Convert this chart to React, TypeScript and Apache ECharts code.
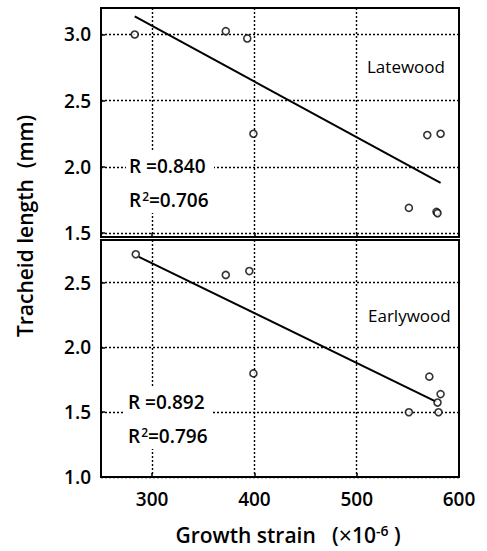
import React, { useEffect, useRef } from "react";
import * as echarts from "echarts";

// Growth strain (x10^-6) and tracheid length (mm)
const strainTicks = [300, 400, 500, 600];
const lateTicks = [1.5, 2.0, 2.5, 3.0];
const earlyTicks = [1.0, 1.5, 2.0, 2.5];

const lateStrain = [283, 372, 393, 399, 569, 582, 551, 578, 579];
const lateLength = [3.0, 3.025, 2.97, 2.25, 2.24, 2.25, 1.69, 1.66, 1.65];
const lateFitStrain = [283, 582];
const lateFitLength = [3.136, 1.879];

const earlyStrain = [284, 372, 395, 399, 571, 582, 579, 551, 580];
const earlyLength = [2.72, 2.56, 2.59, 1.8, 1.775, 1.64, 1.575, 1.5, 1.5];
const earlyFitStrain = [287, 578];
const earlyFitLength = [2.7, 1.58];

const FONT = "Open Sans";

const pairs = (xs: number[], ys: number[]) => xs.map((x, i) => [x, ys[i]]);

const gridLine = { show: true, lineStyle: { color: "#000", width: 1.4, type: [2, 2] as number[] } };

function xAxisFor(gridIndex: number, showLabels: boolean) {
  return {
    type: "value" as const,
    gridIndex,
    min: 250,
    max: 600,
    axisLine: { show: false },
    axisTick: { show: true, inside: true, length: 4, customValues: [300, 400, 500], lineStyle: { color: "#000", width: 1.5 } },
    axisLabel: {
      show: showLabels,
      customValues: strainTicks,
      margin: 12,
      color: "#000",
      fontFamily: FONT,
      fontWeight: 600,
      fontSize: 19,
    },
    splitLine: gridLine,
  };
}

function yAxisFor(gridIndex: number, min: number, max: number, ticks: number[]) {
  return {
    type: "value" as const,
    gridIndex,
    min,
    max,
    axisLine: { show: false },
    axisTick: { show: true, inside: true, length: 4, customValues: ticks, lineStyle: { color: "#000", width: 1.5 } },
    axisLabel: {
      customValues: ticks,
      formatter: (v: number) => v.toFixed(1),
      margin: 10,
      color: "#000",
      fontFamily: FONT,
      fontWeight: 600,
      fontSize: 19,
    },
    splitLine: gridLine,
  };
}

const pointStyle = { color: "#fff", borderColor: "#000", borderWidth: 1.6 };

function scatter(idx: number, xs: number[], ys: number[]) {
  return {
    type: "scatter" as const,
    xAxisIndex: idx,
    yAxisIndex: idx,
    symbol: "circle",
    symbolSize: 7,
    itemStyle: pointStyle,
    data: pairs(xs, ys),
    z: 4,
  };
}

function fit(idx: number, xs: number[], ys: number[]) {
  return {
    type: "line" as const,
    xAxisIndex: idx,
    yAxisIndex: idx,
    showSymbol: false,
    lineStyle: { color: "#000", width: 2 },
    data: pairs(xs, ys),
    z: 3,
  };
}

const textBase = { fontFamily: FONT, fill: "#000" };
const rich = {
  a: { fontFamily: FONT, fontWeight: 600, fontSize: 19, color: "#000" },
  sup: { fontFamily: FONT, fontWeight: 600, fontSize: 12, color: "#000", verticalAlign: "top" as const, padding: [0, 0, 0, 1] },
};

function statBlock(x: number, y: number, r: string, r2: string) {
  return [
    { type: "rect", z: 100, shape: { x: x - 3, y: y - 4, width: 88, height: 61 }, style: { fill: "#fff" } },
    { type: "text", z: 101, x, y, style: { ...textBase, text: `{a|R =${r}}`, rich, verticalAlign: "top" } },
    { type: "text", z: 101, x, y: y + 34, style: { ...textBase, text: `{a|R}{sup|2}{a|=${r2}}`, rich, verticalAlign: "top" } },
  ];
}

export default function App() {
  const ref = useRef<HTMLDivElement>(null);

  useEffect(() => {
    if (!ref.current) return;
    const chart = echarts.init(ref.current, undefined, { renderer: "svg" });
    chart.setOption({
      animation: false,
      backgroundColor: "#fff",
      grid: [
        { left: 101, top: 8, width: 358, height: 229, show: true, borderColor: "#000", borderWidth: 2, backgroundColor: "transparent" },
        { left: 101, top: 240, width: 358, height: 237, show: true, borderColor: "#000", borderWidth: 2, backgroundColor: "transparent" },
      ],
      xAxis: [xAxisFor(0, false), xAxisFor(1, true)],
      yAxis: [yAxisFor(0, 1.47, 3.2, lateTicks), yAxisFor(1, 1.0, 2.83, earlyTicks)],
      series: [
        fit(0, lateFitStrain, lateFitLength),
        scatter(0, lateStrain, lateLength),
        fit(1, earlyFitStrain, earlyFitLength),
        scatter(1, earlyStrain, earlyLength),
      ],
      graphic: [
        ...statBlock(129, 156, "0.840", "0.706"),
        ...statBlock(128, 392, "0.892", "0.796"),
        { type: "text", z: 101, x: 367, y: 66, style: { ...textBase, text: "Latewood", fontSize: 17, fontWeight: 500, verticalAlign: "middle" } },
        { type: "text", z: 101, x: 368, y: 315, style: { ...textBase, text: "Earlywood", fontSize: 17, fontWeight: 500, verticalAlign: "middle" } },
        {
          type: "text",
          z: 101,
          x: 288,
          y: 535,
          style: {
            ...textBase,
            text: "{a|Growth strain   (}{x|×}{a|10}{sup|-6}{a| )}",
            rich: {
              a: { fontFamily: FONT, fontWeight: 600, fontSize: 21, color: "#000" },
              x: { fontFamily: FONT, fontWeight: 400, fontSize: 23, color: "#000" },
              sup: { fontFamily: FONT, fontWeight: 600, fontSize: 14, color: "#000", verticalAlign: "top" },
            },
            align: "center",
            verticalAlign: "middle",
          },
        },
        {
          type: "text",
          z: 101,
          x: 25,
          y: 226,
          rotation: Math.PI / 2,
          style: { ...textBase, text: "Tracheid length  (mm)", fontSize: 21, fontWeight: 600, align: "center", verticalAlign: "middle" },
        },
      ],
    });
    return () => chart.dispose();
  }, []);

  return <div ref={ref} style={{ position: "fixed", left: 0, top: 0, width: 487, height: 551 }} />;
}
